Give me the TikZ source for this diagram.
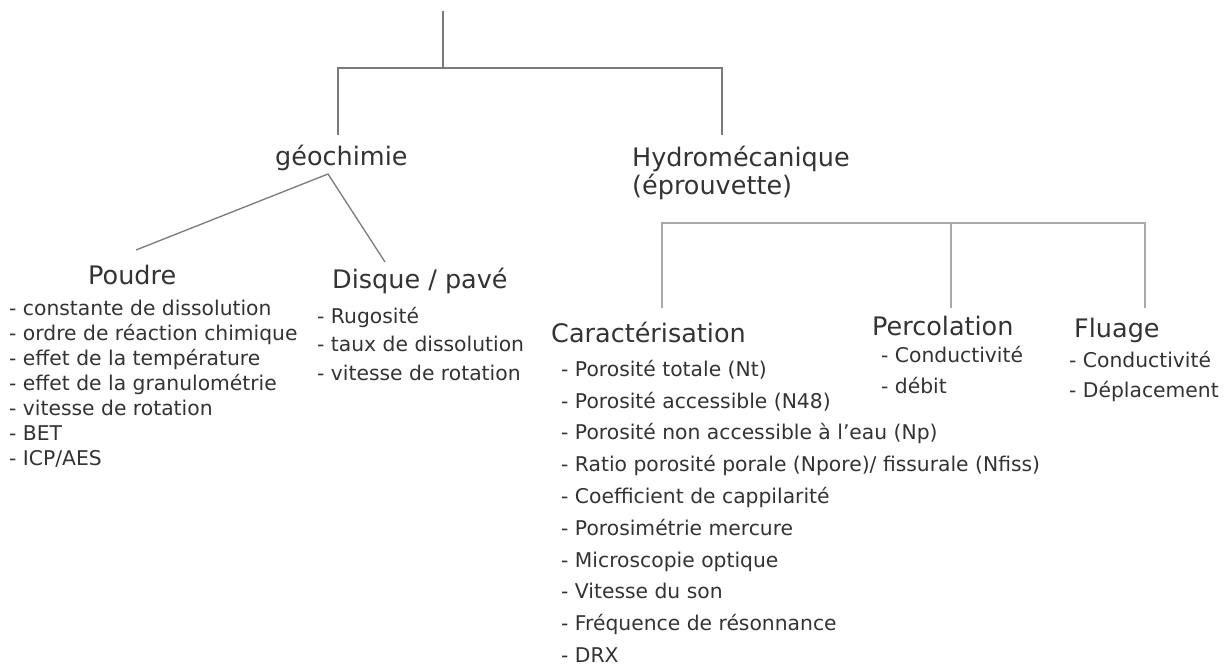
\documentclass[tikz,border=0pt]{standalone}
\usepackage{fontspec}
\setmainfont{DejaVu Sans}
\definecolor{txt}{HTML}{333333}
\definecolor{ln}{HTML}{7A7A7A}
\definecolor{lnl}{HTML}{A8A8A8}
\tikzset{
  head/.style={anchor=base west, inner sep=0pt, text=txt, font={\fontsize{25.5}{28.5}\selectfont}, align=left},
  items/.style={anchor=base west, inner sep=0pt, text=txt, align=left, font={\fontsize{20.3}{#1}\selectfont}},
  conn/.style={draw=ln, line width=1.3pt},
  connl/.style={draw=lnl, line width=1.8pt}
}
\begin{document}
\begin{tikzpicture}[x=1pt,y=-1pt]
\useasboundingbox[fill=white] (0,0) rectangle (1231,666);
% top-level
\coordinate (root) at (443,11);
\coordinate (j1) at (443,68);
\coordinate (jl) at (338,68);
\coordinate (jr) at (722,68);
\coordinate (geotop) at (338,135);
\coordinate (hydtop) at (722,135);
\draw[conn] (root) -- (j1);
\draw[conn] (geotop) -- (jl) -- (jr) -- (hydtop);

% multi-line nodes: base anchor = baseline of the last line
\node[head] (geo) at (275,165) {géochimie};
\node[head] (hyd) at (632,194.5) {Hydromécanique\\(éprouvette)};

% géochimie branches
\coordinate (apex) at (328,174);
\coordinate (poutop) at (136,250);
\coordinate (distop) at (385,262);
\draw[conn] (poutop) -- (apex) -- (distop);

\node[head] (pou) at (88,284) {Poudre};
\node[items=25.1] (pouit) at (9,465.6) {- constante de dissolution\\- ordre de réaction chimique\\- effet de la température\\- effet de la granulométrie\\- vitesse de rotation\\- BET\\- ICP/AES};

\node[head] (dis) at (332,288) {Disque / pavé};
\node[items=28.5] (disit) at (317,380) {- Rugosité\\- taux de dissolution\\- vitesse de rotation};

% hydromécanique bracket
\coordinate (hb) at (662,223);
\coordinate (hm) at (951,223);
\coordinate (he) at (1145,223);
\coordinate (cartop) at (662,308);
\coordinate (pertop) at (951,308);
\coordinate (flutop) at (1145,308);
\draw[connl] (cartop) -- (hb) -- (he) -- (flutop);
\draw[connl] (hm) -- (pertop);

\node[head] (car) at (551,342) {Caractérisation};
\node[items=31.8] (carit) at (561,662.5) {- Porosité totale (Nt)\\- Porosité accessible (N48)\\- Porosité non accessible à l{\char"0027}eau (Np)\\- Ratio porosité porale (Npore)/ fissurale (Nfiss)\\- Coefficient de cappilarité\\- Porosimétrie mercure\\- Microscopie optique\\- Vitesse du son\\- Fréquence de résonnance\\- DRX};

\node[head] (per) at (872,335) {Percolation};
\node[items=31] (perit) at (881,393) {- Conductivité\\- débit};

\node[head] (flu) at (1074,337) {Fluage};
\node[items=30] (fluit) at (1069,397) {- Conductivité\\- Déplacement};
\end{tikzpicture}
\end{document}
